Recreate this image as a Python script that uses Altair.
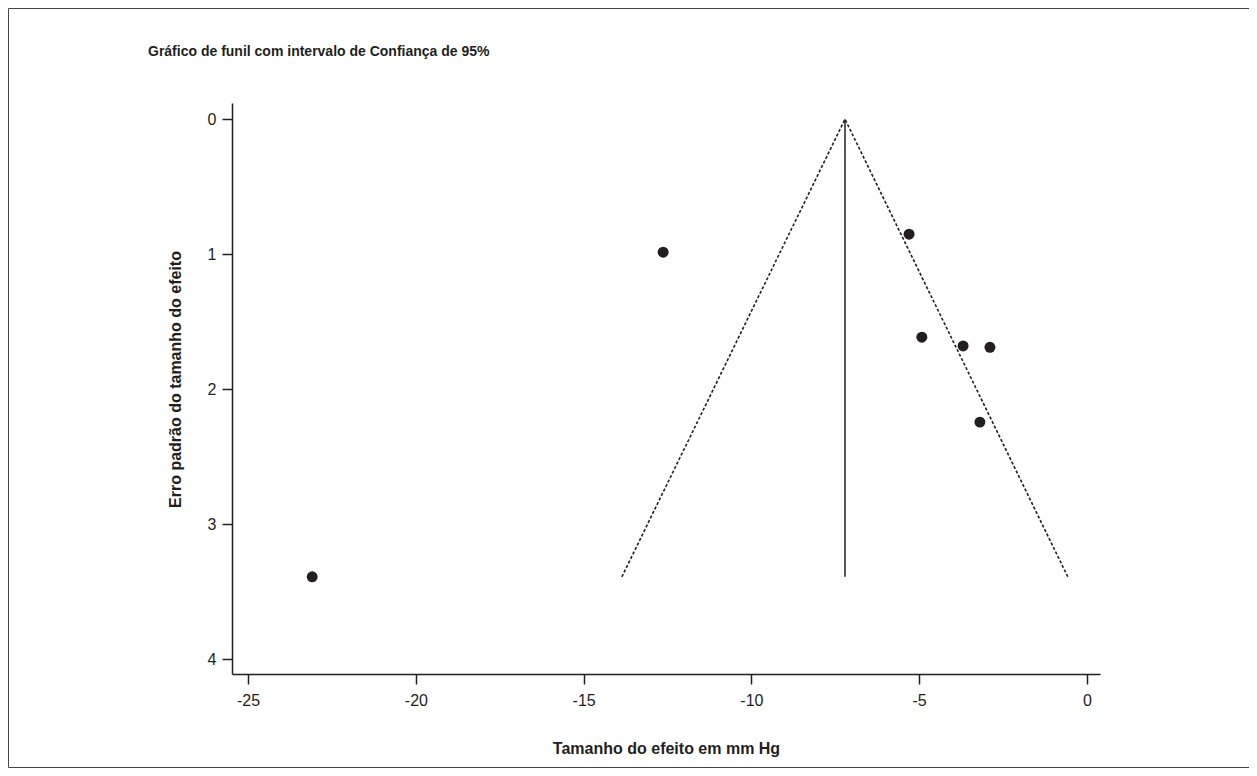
import altair as alt
import pandas as pd

# ---- data ----
study_effect = [-23.09, -12.63, -5.30, -4.92, -3.69, -2.89, -3.19]
study_se = [3.39, 0.985, 0.852, 1.615, 1.68, 1.69, 2.244]
pooled_effect = -7.21
funnel_se_max = 3.39
funnel_x = [-13.86, -7.21, -0.57]
funnel_y = [3.39, 0.0, 3.39]
x_ticks = [-25, -20, -15, -10, -5, 0]
y_ticks = [0, 1, 2, 3, 4]

chart_title = "Gráfico de funil com intervalo de Confiança de 95%"
x_title = "Tamanho do efeito em mm Hg"
y_title = "Erro padrão do tamanho do efeito"

FONT = "Liberation Sans, Arial, sans-serif"
INK = "#231f20"

W, H = 868, 571

xscale = alt.Scale(domain=[-25.48, 0.39], nice=False, zero=False)
yscale = alt.Scale(domain=[-0.12, 4.11], nice=False, zero=False, reverse=True)

points_df = pd.DataFrame({"efeito": study_effect, "ep": study_se})
funnel_df = pd.DataFrame({"efeito": funnel_x, "ep": funnel_y, "ordem": [0, 1, 2]})
pooled_df = pd.DataFrame({"efeito": [pooled_effect], "ep": [0.0], "ep1": [funnel_se_max]})

x_axis = alt.Axis(
    values=x_ticks, title=x_title, grid=False, tickSize=10, labelPadding=8,
    labelExpr="'' + datum.value",
    labelFont=FONT, labelFontSize=16, labelColor=INK,
    titleFont=FONT, titleFontSize=16, titleFontWeight="bold", titleColor=INK,
    titleX=W / 2, titleY=74, titleAlign="center", titleBaseline="middle",
    domainColor=INK, tickColor=INK, domainWidth=1.5, tickWidth=1.5,
    labelFlush=False,
)
y_axis = alt.Axis(
    values=y_ticks, title=y_title, grid=False, tickSize=10, labelPadding=6,
    labelExpr="'' + datum.value",
    labelFont=FONT, labelFontSize=16, labelColor=INK,
    titleFont=FONT, titleFontSize=16, titleFontWeight="bold", titleColor=INK,
    titleX=-57, titleY=276, titleAngle=270, titleAlign="center", titleBaseline="middle",
    domainColor=INK, tickColor=INK, domainWidth=1.5, tickWidth=1.5,
    labelFlush=False,
)


def xenc():
    return alt.X("efeito:Q", scale=xscale, axis=x_axis, title=x_title)


def yenc():
    return alt.Y("ep:Q", scale=yscale, axis=y_axis, title=y_title)


points = alt.Chart(points_df).mark_point(
    filled=True, size=120, color=INK, opacity=1
).encode(x=xenc(), y=yenc())

funnel = alt.Chart(funnel_df).mark_line(
    color=INK, strokeWidth=1.6, strokeDash=[3, 2]
).encode(x=xenc(), y=yenc(), order="ordem:Q")

pooled = alt.Chart(pooled_df).mark_rule(color=INK, strokeWidth=1.5).encode(
    x=xenc(), y=yenc(), y2="ep1:Q",
)

one_row = alt.Data(values=[{"t": chart_title}])

title_text = alt.Chart(one_row).mark_text(
    align="left", baseline="middle", font=FONT, fontSize=14,
    fontWeight="bold", color=INK
).encode(text="t:N", x=alt.value(-84), y=alt.value(-51))

border = alt.Chart(alt.Data(values=[{}])).mark_rect(
    fill="transparent", stroke="#444444", strokeWidth=1
).encode(
    x=alt.value(-223.5), x2=alt.value(1017.5),
    y=alt.value(-94.5), y2=alt.value(664.5),
)

chart = alt.layer(points, funnel, pooled, title_text, border).properties(
    width=W, height=H,
    background="white",
    autosize=alt.AutoSizeParams(type="none"),
    padding={"left": 224, "top": 95, "right": 149, "bottom": 94},
).configure_view(stroke="transparent", strokeWidth=0)

chart.save("out.html", embed_options={"renderer": "svg", "actions": False})
